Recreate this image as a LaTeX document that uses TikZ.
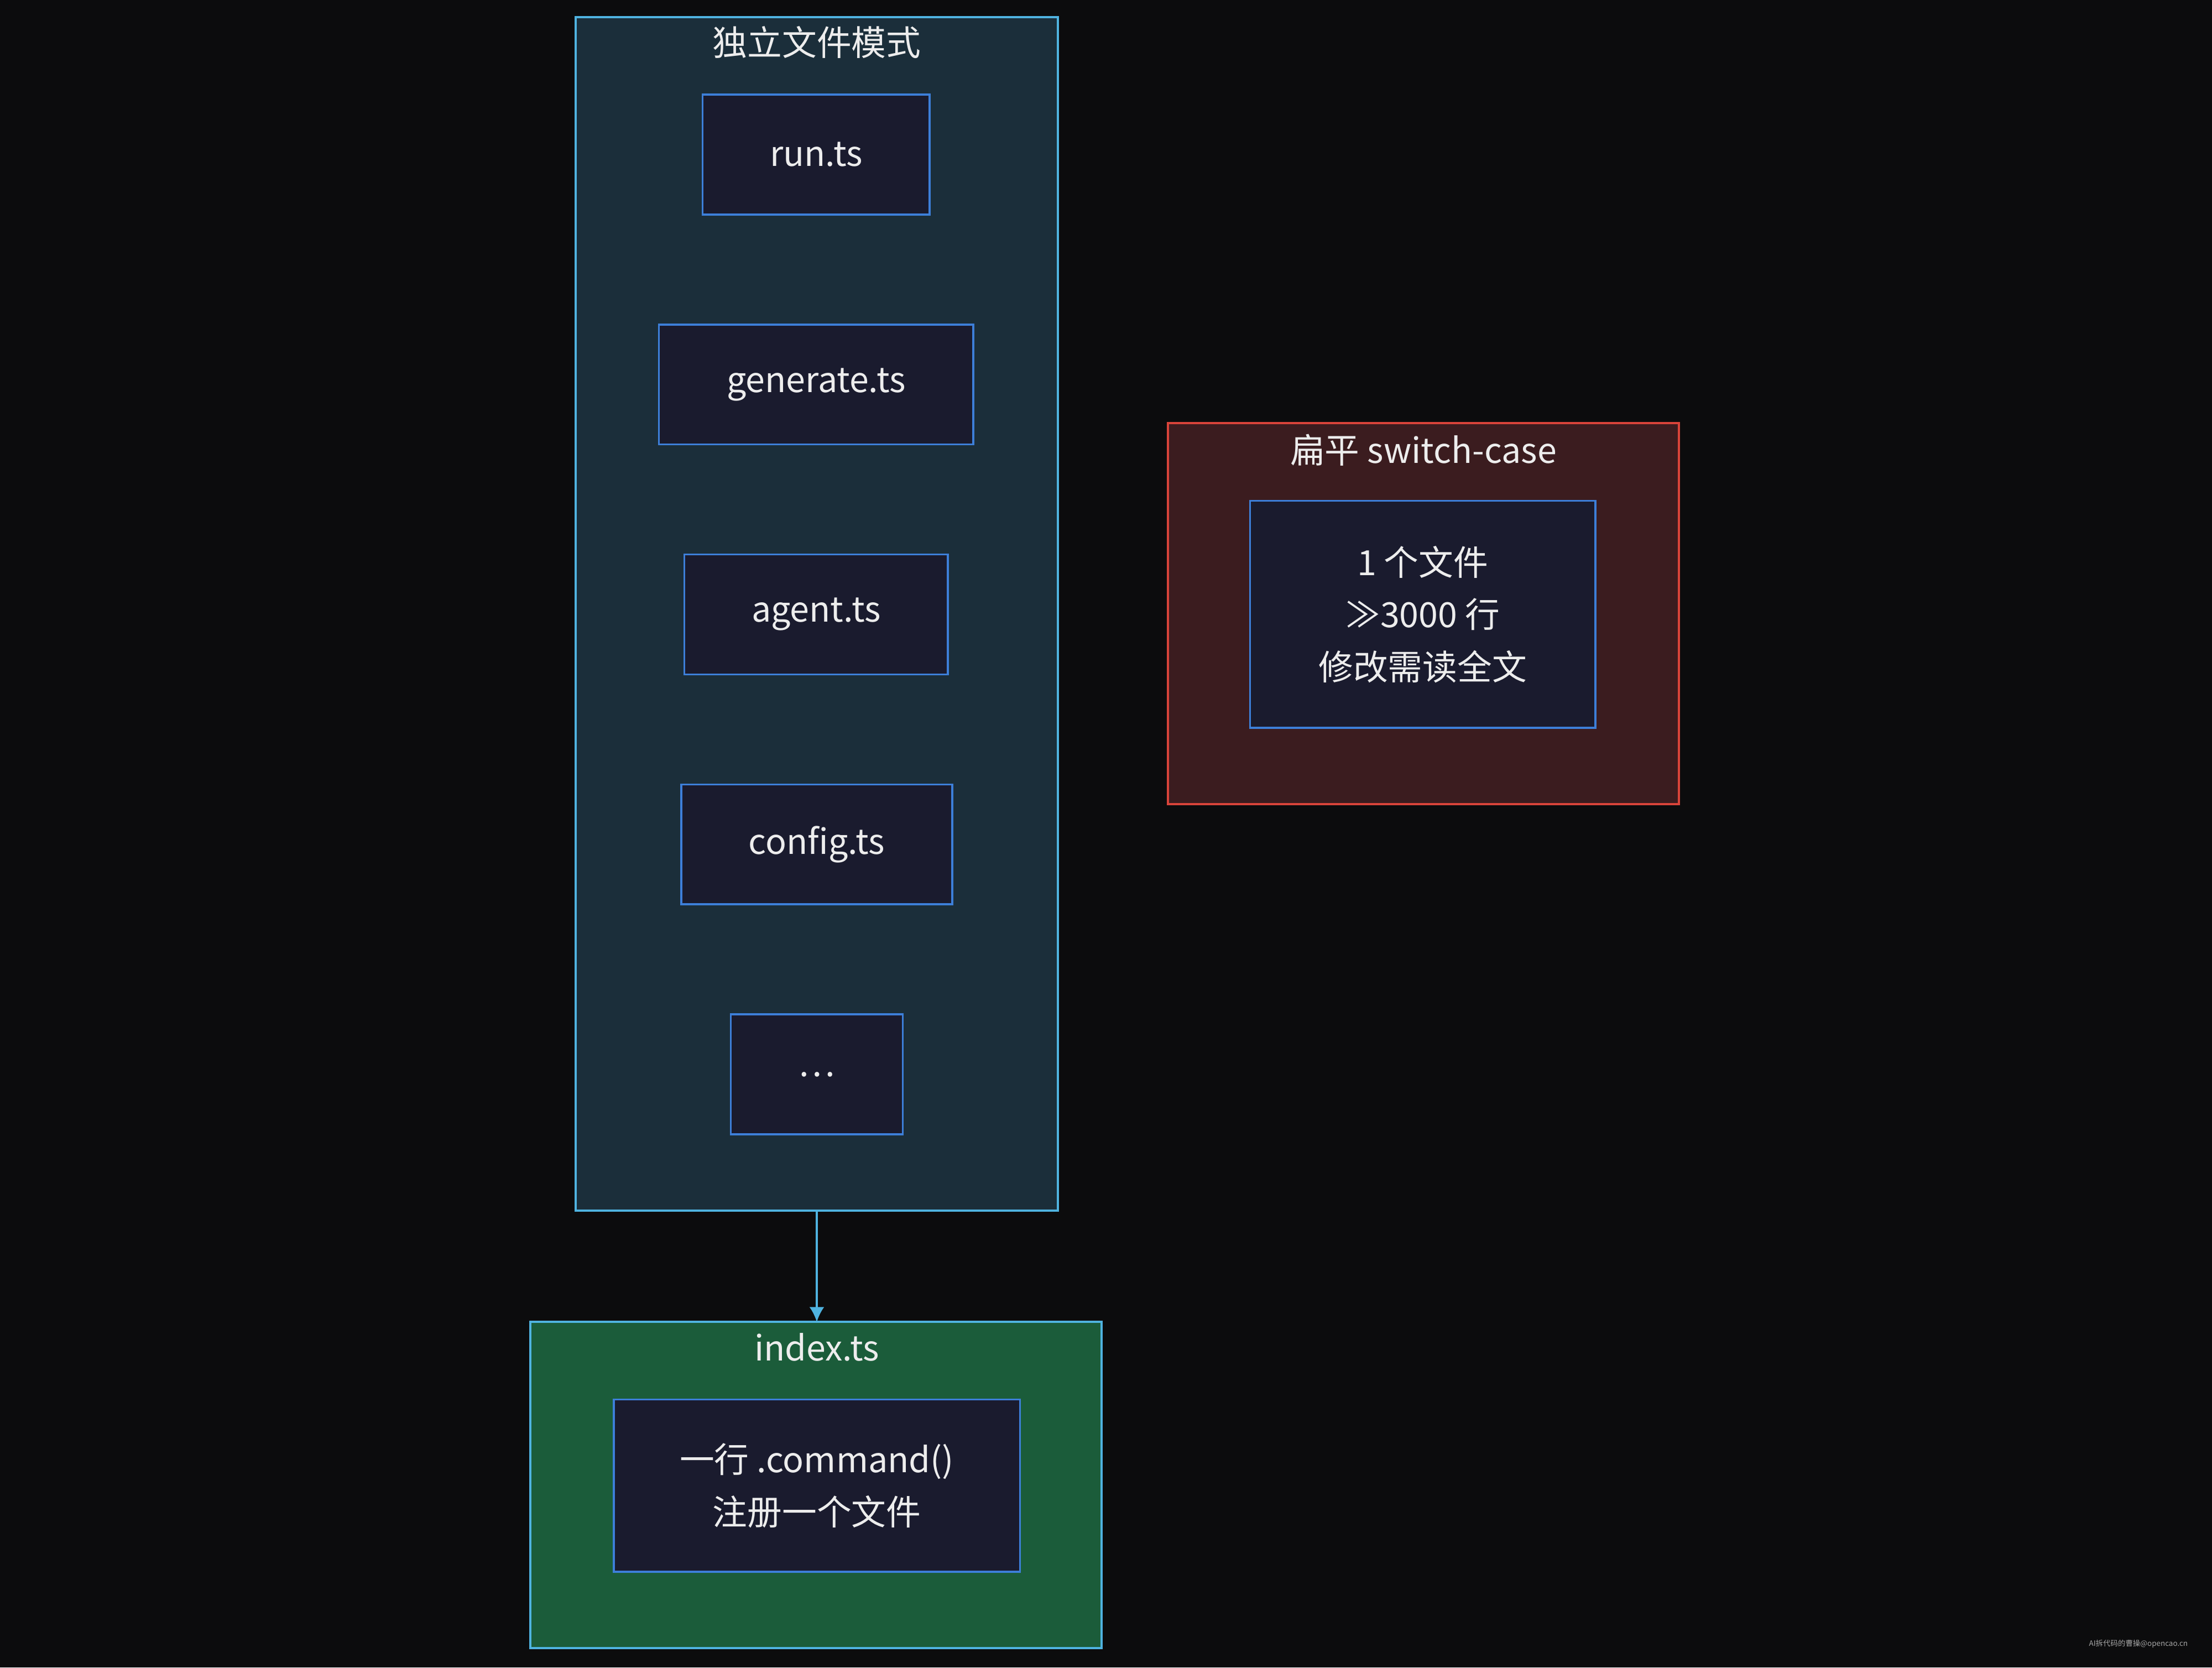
\documentclass[tikz,border=0pt]{standalone}
\usepackage{fontspec}
\setmainfont{Noto Sans CJK SC}
\usetikzlibrary{arrows.meta}
\definecolor{bgc}{HTML}{0C0C0D}
\definecolor{filec}{HTML}{1A1B2E}
\definecolor{fileb}{HTML}{3D7FD9}
\definecolor{modc}{HTML}{1B2E3A}
\definecolor{cyanb}{HTML}{4FB3E0}
\definecolor{flatc}{HTML}{3B1C1F}
\definecolor{redb}{HTML}{D9443A}
\definecolor{idxc}{HTML}{1B5C3A}
\definecolor{txtc}{HTML}{EDEDED}
\begin{document}
\begin{tikzpicture}[x=0.02cm,y=-0.02cm,
                    font=\fontsize{14}{21}\selectfont,text=txtc,
                    file/.style={draw=fileb,fill=filec,line width=0.8pt,inner sep=0pt,align=center},
                    group/.style={line width=0.9pt},
                    title/.style={anchor=center}]

 \fill[bgc] (0,0) rectangle (1568,1182);
 \useasboundingbox (0,0) rectangle (1568,1182);

 % independent files
 \filldraw[group,fill=modc,draw=cyanb] (408,12) rectangle (750,858);
 \node[title] (modT) at (579,30) {独立文件模式};
 \node[file,minimum width=3.22cm,minimum height=1.7cm] (run) at (578.5,109.5) {run.ts};
 \node[file,minimum width=4.46cm,minimum height=1.7cm] (gen) at (578.5,272.5) {generate.ts};
 \node[file,minimum width=3.74cm,minimum height=1.7cm] (agent) at (578.5,435.5) {agent.ts};
 \node[file,minimum width=3.84cm,minimum height=1.7cm] (cfg) at (579,598.5) {config.ts};
 \node[file,minimum width=2.44cm,minimum height=1.7cm] (more) at (579,761.5) {\dots};
 \coordinate (modS) at (579,858);

 % flat switch-case
 \filldraw[group,fill=flatc,draw=redb] (828,300) rectangle (1190,570);
 \node[title] (flatT) at (1009,319) {扁平 switch-case};
 \node[file,minimum width=4.9cm,minimum height=3.22cm] (flat) at (1008.5,435.5)
      {1 个文件\\≫3000 行\\修改需读全文};

 % index.ts
 \filldraw[group,fill=idxc,draw=cyanb] (376,937) rectangle (781,1168);
 \node[title] (idxT) at (579,955) {index.ts};
 \node[file,minimum width=5.76cm,minimum height=2.44cm] (reg) at (579,1053)
      {一行 .command()\\注册一个文件};
 \coordinate (idxN) at (579,937);

 \draw[cyanb,line width=0.8pt,-{Latex[length=6pt,width=6pt]}] (modS) -- (idxN);

 \node[font=\fontsize{3}{4}\selectfont,text=gray!70,anchor=east] (mark) at (1557,1165) {AI拆代码的曹操@opencao.cn};
\end{tikzpicture}
\end{document}
